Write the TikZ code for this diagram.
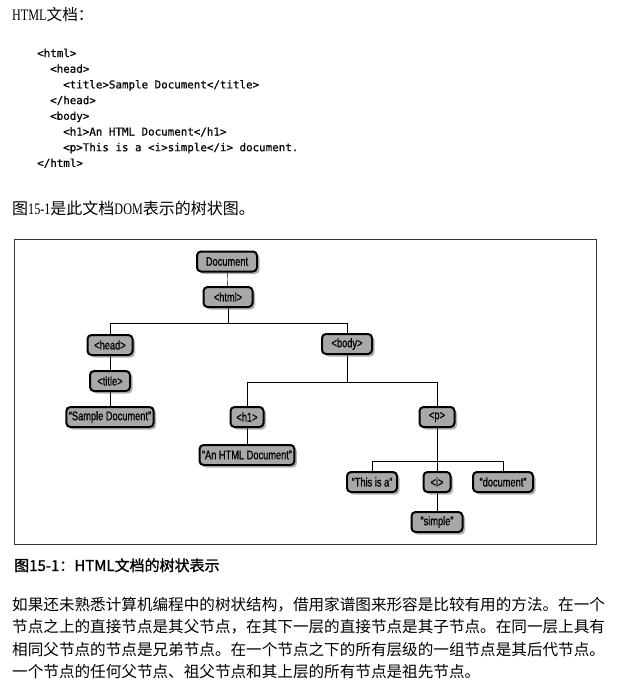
\documentclass[tikz,border=0pt]{standalone}
\usepackage{fontspec}
\setmainfont{Liberation Serif}
\newfontfamily\latinfont[FakeStretch=0.76]{Liberation Serif}
\newfontfamily\cjk{Noto Sans CJK SC}
\newfontfamily\capfont[FakeBold=1.2]{Noto Sans CJK SC}
\newfontfamily\codefont[FakeBold=0.6]{DejaVu Sans Mono}
\newfontfamily\treefont[FakeStretch=0.74,FakeBold=0.8]{Liberation Sans}
\usetikzlibrary{shadows,backgrounds}
\tikzset{
  domnode/.style={draw,line width=2pt,rounded corners=4pt,fill=black!34,
    minimum height=20pt,inner xsep=2.5pt,inner ysep=1pt,
    font=\treefont\fontsize{12.5}{13}\selectfont,
    drop shadow={shadow xshift=2.5pt,shadow yshift=-2.5pt,fill=black!60}},
  codeline/.style={anchor=base west,inner sep=0pt,
    font=\codefont\fontsize{10.85}{12}\selectfont},
  bodyline/.style={anchor=base west,inner sep=0pt,
    font=\cjk\fontsize{15.6}{18}\selectfont},
  link/.style={line width=1.8pt}
}
\begin{document}
\begin{tikzpicture}[x=1pt,y=-1pt]
      \useasboundingbox (0,0) rectangle (617,693);
      % text above the figure
      \node[anchor=base west,inner sep=0pt,font=\latinfont\fontsize{16}{16}\selectfont]
        (heading) at (12,21) {HTML{\cjk\fontsize{15.6}{16}\selectfont 文档：}};
      \node[codeline] (c0) at (37,57) {<html>};
      \node[codeline] (c1) at (50,72.7) {<head>};
      \node[codeline] (c2) at (63,88.4) {<title>Sample Document</title>};
      \node[codeline] (c3) at (50,104.1) {</head>};
      \node[codeline] (c4) at (50,119.8) {<body>};
      \node[codeline] (c5) at (63,135.5) {<h1>An HTML Document</h1>};
      \node[codeline] (c6) at (63,151.2) {<p>This is a <i>simple</i> document.};
      \node[codeline] (c7) at (37,166.9) {</html>};
      \node[anchor=base west,inner sep=0pt,font=\latinfont\fontsize{16}{16}\selectfont]
        (intro) at (12,214) {{\cjk 图}15-1{\cjk 是此文档}DOM{\cjk 表示的树状图。}};
      % figure frame
      \draw[line width=0.9pt,black!80] (14,239) rectangle (596,544);
      % the tree
      \node[domnode,minimum width=60pt] (doc) at (227,261.5) {Document};
      \node[domnode,minimum width=49pt] (html) at (228,297) {<html>};
      \node[domnode,minimum width=45pt] (head) at (110,345) {<head>};
      \node[domnode,minimum width=50pt] (body) at (347,344) {<body>};
      \node[domnode,minimum width=40pt] (title) at (110,381) {<title>};
      \node[domnode,minimum width=85pt] (sample) at (110,417) {“Sample Document”};
      \node[domnode,minimum width=33pt] (h1) at (247,417) {<h1>};
      \node[domnode,minimum width=93pt] (htmldoc) at (247,455) {“An HTML Document”};
      \node[domnode,minimum width=35pt] (p) at (437,417) {<p>};
      \node[domnode,minimum width=50pt] (thisis) at (372,482) {“This is a”};
      \node[domnode,minimum width=27pt] (i) at (437,482) {<i>};
      \node[domnode,minimum width=60pt] (doctext) at (503,482) {“document”};
      \node[domnode,minimum width=51pt] (simple) at (437,522) {“simple”};
      \coordinate (htmlbar) at (0,323);
      \coordinate (bodybar) at (0,382);
      \coordinate (pbar) at (0,461);
      \begin{scope}[on background layer,link]
        \draw (doc) to (html);
        \draw (html) -- (html |- htmlbar) -| (head);
        \draw (html |- htmlbar) -| (body);
        \draw (head) to (title);
        \draw (title) to (sample);
        \draw (body) -- (body |- bodybar) -| (h1);
        \draw (body |- bodybar) -| (p);
        \draw (h1) to (htmldoc);
        \draw (p) -- (p |- pbar) -| (thisis);
        \draw (p |- pbar) -| (doctext);
        \draw (p) to (i);
        \draw (i) to (simple);
      \end{scope}
      % text below the figure
      \node[anchor=base west,inner sep=0pt,font=\capfont\fontsize{15}{18}\selectfont]
        (caption) at (14,571) {图15-1：HTML文档的树状表示};
      \node[bodyline] (para1) at (12,610) {如果还未熟悉计算机编程中的树状结构，借用家谱图来形容是比较有用的方法。在一个};
      \node[bodyline] (para2) at (12,632.5) {节点之上的直接节点是其父节点，在其下一层的直接节点是其子节点。在同一层上具有};
      \node[bodyline] (para3) at (12,655) {相同父节点的节点是兄弟节点。在一个节点之下的所有层级的一组节点是其后代节点。};
      \node[bodyline] (para4) at (12,677.5) {一个节点的任何父节点、祖父节点和其上层的所有节点是祖先节点。};
    \end{tikzpicture}
\end{document}
